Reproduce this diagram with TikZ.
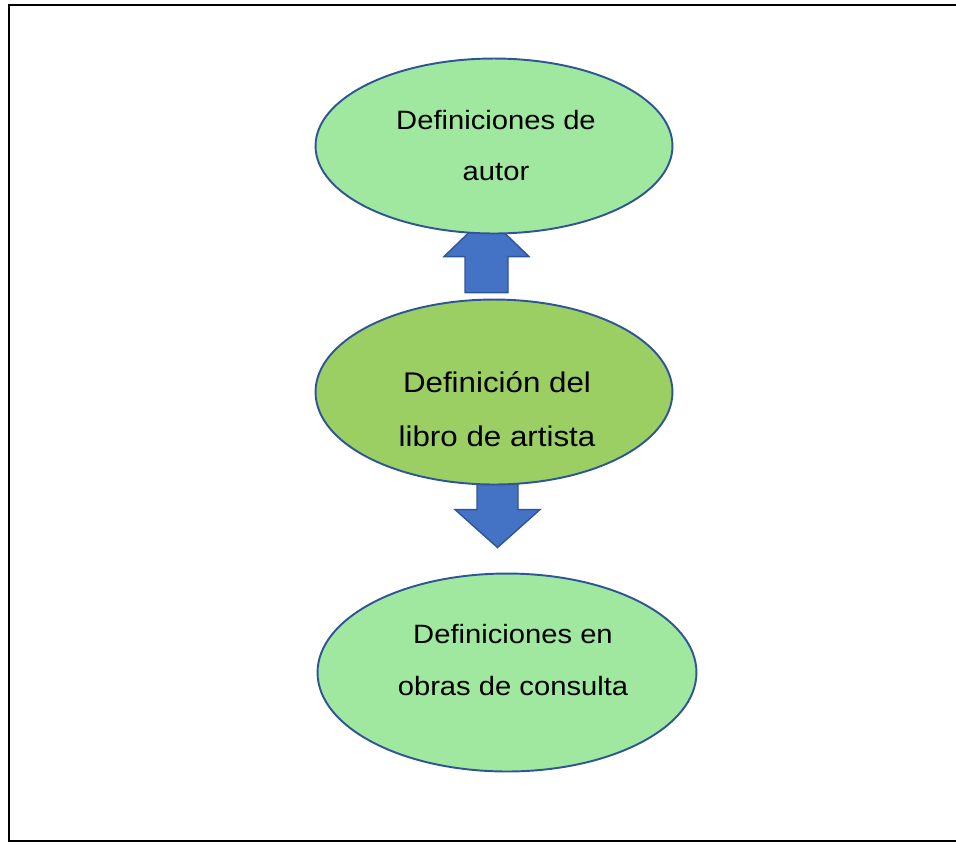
\documentclass[tikz,border=0pt]{standalone}
\usepackage{fontspec}
\setmainfont{Liberation Sans}[FakeStretch=1.1]
\usepackage{tikz}
\usetikzlibrary{calc, backgrounds, shapes.geometric}
\usepackage{xcolor}
\definecolor{ovalgreen}{HTML}{A0E8A0}
\definecolor{ovalmid}{HTML}{9BCF64}
\definecolor{ovalline}{HTML}{2F5597}
\definecolor{arrowblue}{HTML}{4472C4}

\begin{document}
\begin{tikzpicture}[
    x=0.02cm, y=-0.02cm,
    oval/.style={ellipse, draw=ovalline, line width=1.1pt, inner sep=0pt},
    ovaltext/.style={anchor=base, align=center, inner sep=0pt},
    blockarrow/.style={fill=arrowblue, draw=ovalline, line width=0.8pt, line join=miter}
  ]
    \useasboundingbox (0,0) rectangle (956,843);
    \draw[line width=1.2pt] (9,5) rectangle (975,841);

    % the three ovals
    \node[oval, fill=ovalgreen, minimum width=7.14cm, minimum height=3.5cm] (autor) at (494,146) {};
    \node[oval, fill=ovalmid, minimum width=7.14cm, minimum height=3.7cm] (libro) at (494,392) {};
    \node[oval, fill=ovalgreen, minimum width=7.58cm, minimum height=3.96cm] (obras) at (507,672.5) {};

    \node[ovaltext, font=\fontsize{15.1}{28.5}\selectfont] (autorTxt) at (496,180)
      {Definiciones de\\autor};
    \node[ovaltext, font=\fontsize{16.2}{30.7}\selectfont] (libroTxt) at (497,446)
      {Definición del\\libro de artista};
    \node[ovaltext, font=\fontsize{15.1}{29.6}\selectfont] (obrasTxt) at (513,695)
      {Definiciones en\\obras de consulta};

    % block arrows, behind the ovals
    \coordinate (upBase) at ($(libro.north)+(-7.5,-6)$);
    \coordinate (downTip) at ($(obras.north)+(-9.5,-25)$);
    \begin{scope}[on background layer]
      \draw[blockarrow] (upBase) ++(-21.5,0) -- ++(43,0) -- ++(0,-36) -- ++(21,0)
        -- ++(-42.5,-41) -- ++(-42.5,41) -- ++(21,0) -- cycle;
      \draw[blockarrow] (downTip) -- ++(-42.5,-38) -- ++(22,0) -- ++(0,-40)
        -- ++(41,0) -- ++(0,40) -- ++(22,0) -- cycle;
    \end{scope}
  \end{tikzpicture}
\end{document}
